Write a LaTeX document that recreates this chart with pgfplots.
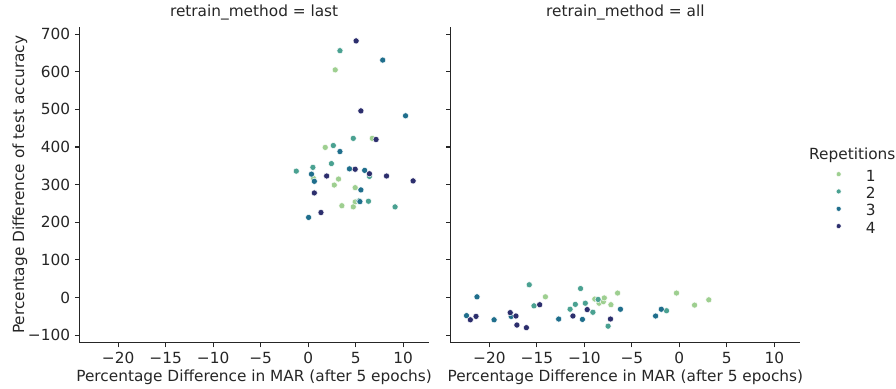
\documentclass[border=0pt]{standalone}
\usepackage{fontspec}
\setmainfont{DejaVu Sans}
\usepackage{pgfplots}
\pgfplotsset{compat=1.18}
\definecolor{c1}{RGB}{158,207,144}
\definecolor{c2}{RGB}{74,161,145}
\definecolor{c3}{RGB}{31,110,140}
\definecolor{c4}{RGB}{44,46,109}
\definecolor{axc}{RGB}{38,38,38}
\newcommand{\fs}{\fontsize{11.5}{13.8}\selectfont}
\pgfplotsset{
  myax/.style={
    scale only axis, width=262pt, height=237.1pt,
    xmin=-24.07, xmax=12.7, ymin=-120, ymax=720,
    axis x line*=bottom, axis y line*=left,
    axis line style={axc, line width=0.8pt},
    every tick/.style={axc, line width=0.8pt},
    tick align=outside, major tick length=3.5pt,
    xtick={-20,-15,-10,-5,0,5,10},
    xticklabels={−20,−15,−10,−5,0,5,10},
    ytick={-100,0,100,200,300,400,500,600,700},
    tick label style={font=\fs, text=axc},
    every axis x label/.style={at={(axis description cs:0.5,-0.1084)}, anchor=center, font=\fs, text=axc},
    every axis title/.style={at={(axis description cs:0.5,1.046)}, anchor=center, font=\fs, text=axc},
    xlabel={Percentage Difference in MAR (after 5 epochs)},
    clip=false,
  },
  s1/.style={only marks, mark=*, mark size=2.3pt, mark options={fill=c1, draw=white, line width=0.35pt}},
  s2/.style={only marks, mark=*, mark size=2.3pt, mark options={fill=c2, draw=white, line width=0.35pt}},
  s3/.style={only marks, mark=*, mark size=2.3pt, mark options={fill=c3, draw=white, line width=0.35pt}},
  s4/.style={only marks, mark=*, mark size=2.3pt, mark options={fill=c4, draw=white, line width=0.35pt}},
}
\begin{document}
\begin{tikzpicture}[font=\fs]
\useasboundingbox (0,0) rectangle (672pt,291.75pt);
\begin{axis}[myax, name=L, at={(59.6pt,34.7pt)}, anchor=south west,
  title={retrain\_method = last},
  yticklabels={−100,0,100,200,300,400,500,600,700},
  every axis y label/.style={at={(axis description cs:-0.1702,0.5)}, rotate=90, anchor=center, font=\fs, text=axc},
  ylabel={Percentage Difference of test accuracy}]
\addplot[s1] table {
x y
2.85 605
6.75 423
1.8 399
0.55 317
3.2 315
2.75 299
4.95 292
4.95 254
3.55 244
4.75 241
};
\addplot[s2] table {
x y
3.35 656
4.75 423
2.65 404
-1.25 336
0.5 346
2.45 356
6.45 322
5.35 257
6.35 256
9.15 241
};
\addplot[s3] table {
x y
7.85 631
10.25 483
3.35 388
0.35 328
0.65 309
4.35 342
5.95 338
5.55 286
5.45 255
0.05 213
};
\addplot[s4] table {
x y
5.05 682
5.55 496
7.15 420
4.95 341
6.45 329
1.95 323
8.25 323
11.05 310
0.65 278
1.35 226
};
\end{axis}
\begin{axis}[myax, name=R, at={(338pt,34.7pt)}, anchor=south west,
  title={retrain\_method = all},
  yticklabels={},
  legend style={at={(axis description cs:1.1027,0.4435)}, anchor=west, draw=none, fill=none, inner sep=0pt, row sep=-1pt, font=\fs, text=axc},
  legend cell align=left,
  legend image post style={mark size=1.9pt, yshift=1.8pt}]
\addplot[s1] table {
x y
-14.1 2
-8.9 -4
-8.45 -15
-8.0 -11
-7.9 -1
-7.2 -19
-6.5 12
-0.3 12
1.6 -20
3.1 -6
};
\addplot[s2] table {
x y
-15.8 34
-15.3 -22
-11.5 -31
-10.95 -18
-10.4 24
-9.9 -15
-9.1 -39
-8.55 -5
-7.5 -76
-1.35 -35
};
\addplot[s3] table {
x y
-22.4 -48
-21.3 2
-19.5 -59
-17.7 -50
-12.7 -57
-10.2 -58
-6.2 -31
-1.9 -31
-2.5 -49
};
\addplot[s4] table {
x y
-22.0 -59
-21.4 -50
-17.8 -40
-17.2 -49
-17.1 -73
-16.1 -80
-14.7 -19
-11.2 -49
-9.7 -32
-7.25 -57
};
\legend{\hspace*{16.5pt}1,\hspace*{16.5pt}2,\hspace*{16.5pt}3,\hspace*{16.5pt}4}
\end{axis}
\node[text=axc, font=\fs] at ([xshift=39.2pt,yshift=22.2pt]R.east) {Repetitions};
\end{tikzpicture}
\end{document}
